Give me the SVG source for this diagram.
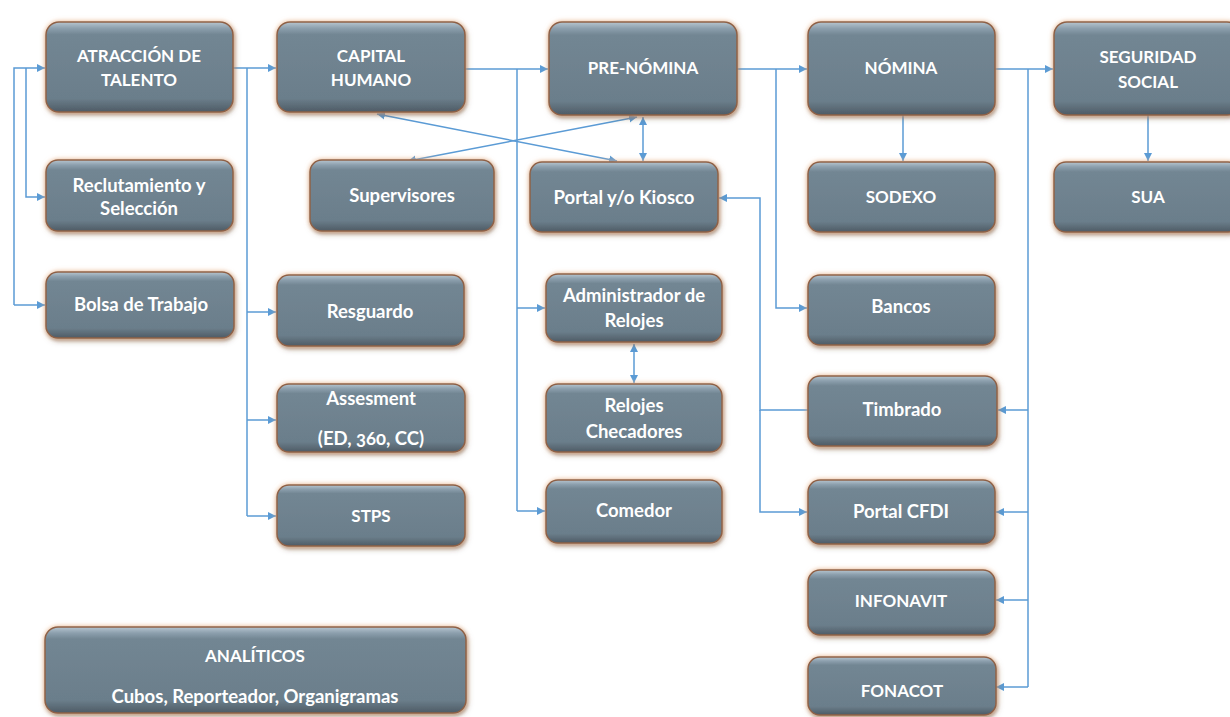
<svg xmlns="http://www.w3.org/2000/svg" width="1230" height="717" viewBox="0 0 1230 717">
<style>
.box{fill:url(#g);stroke:#8e6147;stroke-width:1.5;filter:url(#sh)}
.t,.m{font-family:Lato,"Open Sans","Liberation Sans",sans-serif;font-weight:bold;font-size:17px;fill:#ffffff;text-anchor:middle;font-variant-numeric:oldstyle-nums}
.m{font-size:18.5px}
.c{fill:none;stroke:#5b9bd5;stroke-width:1.5}
.e{marker-end:url(#ar)}
.b{marker-start:url(#ar);marker-end:url(#ar)}
</style>
<defs>
<linearGradient id="g" x1="0" y1="0" x2="0" y2="1">
<stop offset="0" stop-color="#b7c6d0"/>
<stop offset="0.07" stop-color="#8c9fad"/>
<stop offset="0.14" stop-color="#728693"/>
<stop offset="0.85" stop-color="#6b7e8b"/>
<stop offset="1" stop-color="#4e5b65"/>
</linearGradient>
<filter id="sh" x="-10%" y="-15%" width="120%" height="135%">
<feDropShadow dx="0" dy="0" stdDeviation="2.5" flood-color="#f6b98a" flood-opacity="0.8" result="a"/>
<feDropShadow dx="1" dy="2" stdDeviation="1.5" flood-color="#2e2e2e" flood-opacity="0.6"/>
</filter>
<marker id="ar" markerUnits="userSpaceOnUse" markerWidth="9" markerHeight="9" refX="8" refY="4" orient="auto-start-reverse" viewBox="0 0 9 8">
<path d="M0,0 L8,4 L0,8 z" fill="#5b9bd5"/>
</marker>
</defs>
<rect width="1230" height="717" fill="#ffffff"/>

<g id="connectors">
<path class="c e" d="M14,305 V68 H45"/>
<path class="c e" d="M14,305 H45"/>
<path class="c e" d="M26,68 V197 H45"/>
<path class="c e" d="M233,68 H276"/>
<path class="c" d="M247,68 V516"/>
<path class="c e" d="M247,312 H276"/>
<path class="c e" d="M247,420 H276"/>
<path class="c e" d="M247,516 H276"/>
<path class="c e" d="M465,69 H548"/>
<path class="c" d="M517,69 V511"/>
<path class="c e" d="M517,308 H545"/>
<path class="c e" d="M517,511 H545"/>
<path class="c e" d="M737,69 H807"/>
<path class="c e" d="M776,69 V308 H807"/>
<path class="c e" d="M995,69 H1053"/>
<path class="c" d="M1028,69 V687"/>
<path class="c e" d="M1028,410 H998"/>
<path class="c e" d="M1028,512 H996"/>
<path class="c e" d="M1028,600 H996"/>
<path class="c e" d="M1028,687 H996"/>
<path class="c e" d="M903,115 V161"/>
<path class="c e" d="M1148,115 V161"/>
<path class="c b" d="M377,114 L617,161"/>
<path class="c b" d="M408,161 L637,117"/>
<path class="c b" d="M643,117 V161"/>
<path class="c b" d="M634,344 V383"/>
<path class="c e" d="M808,410 H760 V198 H719"/>
<path class="c e" d="M760,410 V512 H807"/>
</g>

<g id="atraccion"><rect class="box" x="46" y="22" width="187" height="90" rx="13"/><text class="t" x="139" y="62">ATRACCIÓN DE</text><text class="t" x="139" y="86">TALENTO</text></g>
<g id="capital"><rect class="box" x="277" y="22" width="188" height="90" rx="13"/><text class="t" x="371" y="62">CAPITAL</text><text class="t" x="371" y="86">HUMANO</text></g>
<g id="prenomina"><rect class="box" x="549" y="22" width="188" height="93" rx="13"/><text class="t" x="643" y="74">PRE-NÓMINA</text></g>
<g id="nomina"><rect class="box" x="808" y="22" width="187" height="93" rx="13"/><text class="t" x="901" y="74">NÓMINA</text></g>
<g id="seguridad"><rect class="box" x="1054" y="22" width="186" height="93" rx="13"/><text class="t" x="1148" y="63">SEGURIDAD</text><text class="t" x="1148" y="88">SOCIAL</text></g>
<g id="reclutamiento"><rect class="box" x="46" y="160" width="187" height="71" rx="12"/><text class="m" x="139" y="192">Reclutamiento y</text><text class="m" x="139" y="215">Selección</text></g>
<g id="supervisores"><rect class="box" x="310" y="160" width="184" height="71" rx="12"/><text class="m" x="402" y="202">Supervisores</text></g>
<g id="portal"><rect class="box" x="530" y="162" width="188" height="70" rx="12"/><text class="m" x="624" y="204">Portal y/o Kiosco</text></g>
<g id="sodexo"><rect class="box" x="808" y="162" width="187" height="70" rx="12"/><text class="t" x="901" y="203">SODEXO</text></g>
<g id="sua"><rect class="box" x="1054" y="162" width="186" height="70" rx="12"/><text class="t" x="1148" y="203">SUA</text></g>
<g id="bolsa"><rect class="box" x="46" y="272" width="188" height="66" rx="12"/><text class="m" x="141" y="311">Bolsa de Trabajo</text></g>
<g id="resguardo"><rect class="box" x="277" y="275" width="187" height="71" rx="12"/><text class="m" x="370" y="318">Resguardo</text></g>
<g id="assesment"><rect class="box" x="277" y="384" width="188" height="68" rx="12"/><text class="m" x="371" y="405">Assesment</text><text class="m" x="371" y="445">(ED, 360, CC)</text></g>
<g id="stps"><rect class="box" x="277" y="485" width="188" height="61" rx="12"/><text class="t" x="371" y="522">STPS</text></g>
<g id="administrador"><rect class="box" x="546" y="274" width="176" height="68" rx="12"/><text class="m" x="634" y="302">Administrador de</text><text class="m" x="634" y="327">Relojes</text></g>
<g id="relojes"><rect class="box" x="546" y="384" width="176" height="68" rx="12"/><text class="m" x="634" y="412">Relojes</text><text class="m" x="634" y="438">Checadores</text></g>
<g id="comedor"><rect class="box" x="546" y="480" width="176" height="63" rx="12"/><text class="m" x="634" y="517">Comedor</text></g>
<g id="bancos"><rect class="box" x="808" y="275" width="187" height="70" rx="12"/><text class="m" x="901" y="313">Bancos</text></g>
<g id="timbrado"><rect class="box" x="808" y="376" width="189" height="70" rx="12"/><text class="m" x="902" y="416">Timbrado</text></g>
<g id="cfdi"><rect class="box" x="808" y="480" width="187" height="64" rx="12"/><text class="m" x="901" y="518">Portal CFDI</text></g>
<g id="infonavit"><rect class="box" x="808" y="570" width="187" height="65" rx="12"/><text class="t" x="901" y="607">INFONAVIT</text></g>
<g id="fonacot"><rect class="box" x="808" y="657" width="188" height="58" rx="12"/><text class="t" x="902" y="697">FONACOT</text></g>
<g id="analiticos"><rect class="box" x="45" y="627" width="421" height="86" rx="13"/><text class="t" x="255" y="662">ANALÍTICOS</text><text class="m" x="255" y="703">Cubos, Reporteador, Organigramas</text></g>
</svg>
